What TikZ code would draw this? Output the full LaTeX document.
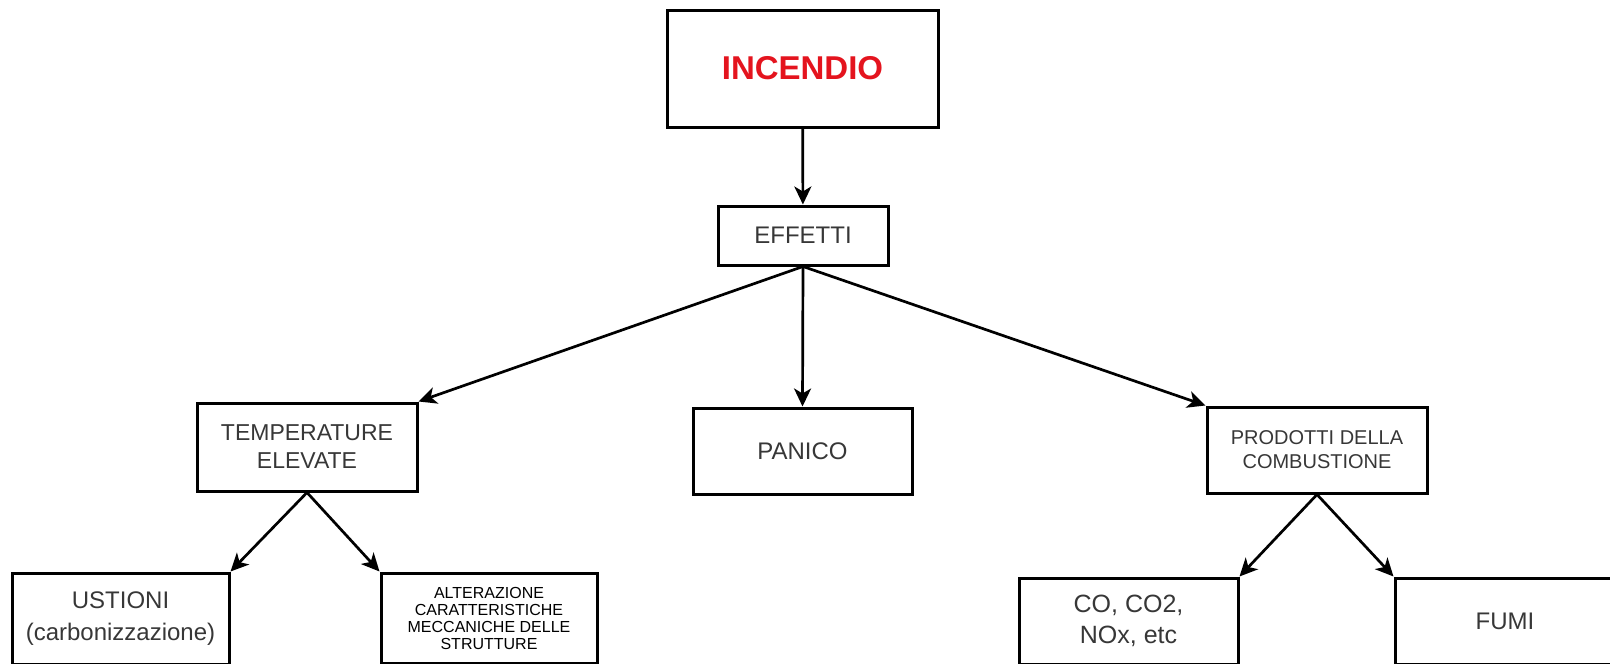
\documentclass[tikz,border=0pt]{standalone}
\usepackage{xcolor}
\usepackage{fontspec}
\setmainfont{Liberation Sans}
\usepackage{tikz}
\usetikzlibrary{arrows.meta}
\definecolor{firered}{RGB}{228,20,30}
\definecolor{boxtext}{RGB}{55,55,55}
\tikzstyle{box} = [draw, line width=3pt, inner sep=0pt, align=center, text=boxtext]
\tikzstyle{arrow} = [line width=2.7pt, -{Stealth[length=18pt,width=17pt,inset=5pt]}]

\begin{document}
\begin{tikzpicture}[x=1pt,y=-1pt]
    \useasboundingbox (0,0) rectangle (1610,664);
    \clip (0,0) rectangle (1610,664);
    \node[box, minimum width=271pt, minimum height=117pt, text=firered, font=\fontsize{33}{38}\selectfont\bfseries] (incendio) at (802.5,68.5) {INCENDIO};
    \node[box, minimum width=170pt, minimum height=59pt, font=\fontsize{24}{28}\selectfont] (effetti) at (803,235.5) {EFFETTI};
    \node[box, minimum width=220pt, minimum height=88pt, font=\fontsize{23}{28}\selectfont] (temperature) at (307,447) {TEMPERATURE\\ELEVATE};
    \node[box, minimum width=219pt, minimum height=86pt, font=\fontsize{24}{28}\selectfont] (panico) at (802.5,451) {PANICO};
    \node[box, minimum width=220pt, minimum height=86pt, font=\fontsize{20}{24}\selectfont] (prodotti) at (1317,450) {PRODOTTI DELLA\\COMBUSTIONE};
    \node[box, minimum width=217pt, minimum height=91pt, font=\fontsize{24}{32}\selectfont] (ustioni) at (120.5,618.5) {USTIONI\\(carbonizzazione)};
    \node[box, minimum width=216pt, minimum height=90pt, text=black, font=\fontsize{16}{17}\selectfont] (alterazione) at (489,618) {ALTERAZIONE\\CARATTERISTICHE\\MECCANICHE DELLE\\STRUTTURE};
    \node[box, minimum width=219pt, minimum height=86pt, font=\fontsize{25}{31}\selectfont] (co) at (1128.5,621) {CO, CO2,\\NOx, etc};
    \node[box, minimum width=220pt, minimum height=86pt, font=\fontsize{24}{28}\selectfont] (fumi) at (1505,621) {FUMI};

    \draw [arrow] (incendio) -- (effetti);
    \draw [arrow] (effetti.south) -- (temperature.north east);
    \draw [arrow] (effetti.south) -- (panico.north);
    \draw [arrow] (effetti.south) -- (prodotti.north west);
    \draw [arrow] (temperature.south) -- (ustioni.north east);
    \draw [arrow] (temperature.south) -- (alterazione.north west);
    \draw [arrow] (prodotti.south) -- (co.north east);
    \draw [arrow] (prodotti.south) -- (fumi.north west);
\end{tikzpicture}
\end{document}
